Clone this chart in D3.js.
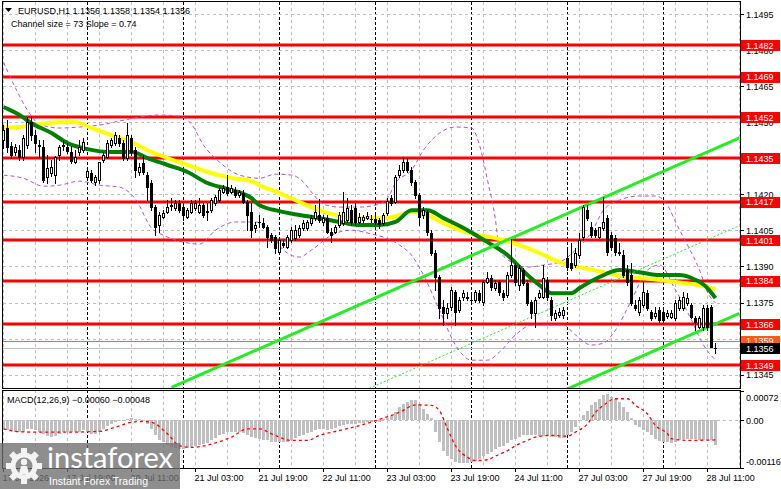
<!DOCTYPE html>
<html>
<head>
<meta charset="utf-8">
<script src="https://cdn.jsdelivr.net/npm/d3@7"></script>
<style>
  body { margin: 0; background: #fff; }
  svg text { font-family: "Liberation Sans", Arial, sans-serif; font-size: 9px; fill: #000; }
</style>
</head>
<body>
<svg id="chart" width="781" height="489"></svg>
<script>
var symbol = 'EURUSD,H1';

// one hourly bar per row: [open, high, low, close], 17 Jul 03:00 .. 28 Jul 13:00
var candles = [
  [1.14426,1.14488,1.14392,1.14467],[1.14476,1.14509,1.14376,1.14396],[1.14401,1.14417,1.14351,1.14363],[1.14376,1.14409,1.14363,1.14396],[1.14384,1.14405,1.14342,1.14355],
  [1.14355,1.14446,1.14342,1.14434],[1.14405,1.14521,1.14392,1.14500],[1.14500,1.14525,1.14426,1.14446],[1.14446,1.14467,1.14376,1.14413],[1.14405,1.14426,1.14355,1.14401],
  [1.14396,1.14426,1.14251,1.14259],[1.14272,1.14363,1.14247,1.14309],[1.14288,1.14342,1.14276,1.14313],[1.14280,1.14359,1.14247,1.14355],[1.14363,1.14405,1.14342,1.14396],
  [1.14405,1.14426,1.14384,1.14401],[1.14396,1.14413,1.14372,1.14380],[1.14376,1.14401,1.14330,1.14338],[1.14334,1.14384,1.14330,1.14355],[1.14376,1.14426,1.14363,1.14396],
  [1.14384,1.14434,1.14376,1.14417],[1.14272,1.14309,1.14259,1.14297],[1.14288,1.14301,1.14251,1.14259],[1.14251,1.14280,1.14238,1.14272],[1.14259,1.14334,1.14247,1.14334],
  [1.14342,1.14376,1.14334,1.14363],[1.14355,1.14426,1.14351,1.14413],[1.14405,1.14434,1.14396,1.14426],[1.14413,1.14459,1.14405,1.14446],[1.14434,1.14446,1.14401,1.14413],
  [1.14413,1.14426,1.14342,1.14351],[1.14351,1.14496,1.14342,1.14446],[1.14434,1.14446,1.14363,1.14376],[1.14384,1.14396,1.14272,1.14301],[1.14293,1.14330,1.14280,1.14313],
  [1.14330,1.14363,1.14284,1.14293],[1.14280,1.14293,1.14176,1.14230],[1.14247,1.14259,1.14134,1.14147],[1.14147,1.14155,1.14030,1.14064],[1.14072,1.14126,1.14043,1.14114],
  [1.14105,1.14134,1.14101,1.14122],[1.14126,1.14176,1.14122,1.14147],[1.14155,1.14184,1.14134,1.14151],[1.14143,1.14176,1.14134,1.14163],[1.14163,1.14176,1.14126,1.14134],
  [1.14147,1.14155,1.14093,1.14114],[1.14105,1.14143,1.14101,1.14134],[1.14126,1.14176,1.14122,1.14163],[1.14143,1.14176,1.14134,1.14163],[1.14126,1.14184,1.14122,1.14155],
  [1.14155,1.14163,1.14105,1.14114],[1.14126,1.14163,1.14093,1.14130],[1.14134,1.14184,1.14126,1.14176],[1.14163,1.14197,1.14155,1.14188],[1.14176,1.14226,1.14168,1.14218],
  [1.14209,1.14238,1.14205,1.14226],[1.14230,1.14280,1.14197,1.14205],[1.14209,1.14238,1.14205,1.14226],[1.14218,1.14230,1.14188,1.14197],[1.14197,1.14218,1.14188,1.14209],
  [1.14205,1.14218,1.14163,1.14168],[1.14168,1.14176,1.14051,1.14114],[1.14126,1.14163,1.14022,1.14051],[1.14060,1.14085,1.14043,1.14072],[1.14085,1.14114,1.14064,1.14085],
  [1.14080,1.14101,1.14060,1.14064],[1.14064,1.14072,1.13980,1.14022],[1.14030,1.14039,1.14001,1.14010],[1.14022,1.14030,1.13956,1.13976],[1.13960,1.14018,1.13956,1.14010],
  [1.13997,1.14010,1.13980,1.13989],[1.13980,1.14030,1.13976,1.14022],[1.14010,1.14064,1.14001,1.14051],[1.14018,1.14072,1.14010,1.14051],[1.14030,1.14072,1.14022,1.14060],
  [1.14060,1.14093,1.14051,1.14080],[1.14060,1.14093,1.14051,1.14085],[1.14080,1.14114,1.14072,1.14101],[1.14101,1.14155,1.14093,1.14126],[1.14114,1.14180,1.14085,1.14093],
  [1.14085,1.14114,1.14072,1.14101],[1.14101,1.14114,1.14039,1.14043],[1.14043,1.14060,1.14001,1.14030],[1.14043,1.14072,1.14039,1.14064],[1.14072,1.14126,1.14064,1.14114],
  [1.14080,1.14209,1.14072,1.14126],[1.14093,1.14184,1.14085,1.14143],[1.14134,1.14155,1.14072,1.14085],[1.14143,1.14163,1.14072,1.14085],[1.14085,1.14122,1.14080,1.14105],
  [1.14093,1.14114,1.14085,1.14105],[1.14101,1.14126,1.14097,1.14110],[1.14097,1.14114,1.14085,1.14097],[1.14097,1.14114,1.14076,1.14085],[1.14093,1.14101,1.14060,1.14076],
  [1.14080,1.14122,1.14072,1.14114],[1.14122,1.14184,1.14114,1.14172],[1.14184,1.14197,1.14155,1.14163],[1.14168,1.14280,1.14163,1.14272],[1.14280,1.14322,1.14272,1.14301],
  [1.14301,1.14355,1.14293,1.14334],[1.14334,1.14351,1.14293,1.14301],[1.14301,1.14313,1.14238,1.14251],[1.14251,1.14259,1.14184,1.14197],[1.14197,1.14205,1.14072,1.14105],
  [1.14114,1.14147,1.14101,1.14134],[1.14126,1.14134,1.14030,1.14043],[1.14039,1.14051,1.13947,1.13956],[1.13956,1.13968,1.13802,1.13856],[1.13856,1.13864,1.13685,1.13727],
  [1.13731,1.13760,1.13656,1.13706],[1.13706,1.13748,1.13685,1.13727],[1.13731,1.13814,1.13718,1.13802],[1.13793,1.13802,1.13656,1.13710],[1.13718,1.13773,1.13710,1.13760],
  [1.13773,1.13802,1.13760,1.13789],[1.13773,1.13793,1.13760,1.13768],[1.13760,1.13781,1.13748,1.13760],[1.13760,1.13802,1.13752,1.13793],[1.13789,1.13802,1.13752,1.13760],
  [1.13752,1.13843,1.13739,1.13835],[1.13835,1.13876,1.13831,1.13852],[1.13852,1.13864,1.13802,1.13814],[1.13810,1.13843,1.13802,1.13831],[1.13835,1.13843,1.13781,1.13793],
  [1.13789,1.13802,1.13760,1.13773],[1.13781,1.13876,1.13773,1.13864],[1.13864,1.14014,1.13856,1.13906],[1.13906,1.13914,1.13822,1.13835],[1.13822,1.13906,1.13802,1.13893],
  [1.13885,1.13893,1.13822,1.13831],[1.13831,1.13843,1.13739,1.13748],[1.13752,1.13760,1.13685,1.13706],[1.13706,1.13773,1.13648,1.13760],[1.13773,1.13802,1.13768,1.13789],
  [1.13773,1.13906,1.13768,1.13852],[1.13843,1.13856,1.13760,1.13773],[1.13760,1.13773,1.13676,1.13698],[1.13685,1.13718,1.13676,1.13706],[1.13698,1.13727,1.13689,1.13710],
  [1.13698,1.13731,1.13685,1.13718],[1.13935,1.13968,1.13885,1.13897],[1.13914,1.13997,1.13885,1.13893],[1.13906,1.13976,1.13897,1.13956],[1.13947,1.14039,1.13935,1.14010],
  [1.14022,1.14155,1.14010,1.14147],[1.14134,1.14155,1.14093,1.14101],[1.14064,1.14085,1.14022,1.14030],[1.14051,1.14060,1.14022,1.14030],[1.14022,1.14064,1.14018,1.14064],
  [1.14060,1.14188,1.14051,1.14085],[1.14101,1.14114,1.13947,1.13960],[1.14030,1.14043,1.13968,1.13980],[1.14018,1.14030,1.13947,1.13960],[1.13960,1.13997,1.13947,1.13956],
  [1.13947,1.13968,1.13856,1.13864],[1.13885,1.13906,1.13822,1.13835],[1.13864,1.13914,1.13739,1.13748],[1.13739,1.13760,1.13718,1.13727],[1.13710,1.13773,1.13698,1.13760],
  [1.13739,1.13835,1.13731,1.13793],[1.13789,1.13802,1.13718,1.13727],[1.13710,1.13718,1.13676,1.13685],[1.13693,1.13731,1.13685,1.13706],[1.13718,1.13731,1.13668,1.13676],
  [1.13710,1.13731,1.13668,1.13676],[1.13693,1.13718,1.13685,1.13706],[1.13689,1.13718,1.13685,1.13706],[1.13685,1.13760,1.13676,1.13748],[1.13727,1.13773,1.13718,1.13760],
  [1.13727,1.13793,1.13718,1.13773],[1.13748,1.13789,1.13739,1.13768],[1.13739,1.13748,1.13685,1.13689],[1.13685,1.13693,1.13635,1.13668],[1.13648,1.13693,1.13644,1.13685],
  [1.13648,1.13739,1.13635,1.13727],[1.13727,1.13739,1.13635,1.13648],[1.13731,1.13739,1.13564,1.13564],[1.13560,1.13580,1.13540,1.13560]
];

// moving averages, read as [bar, price]
var yellowMA = [[0,1.14476],[4,1.14480],[9,1.14492],[14,1.14500],[18,1.14500],[22,1.14476],[27,1.14446],[32,1.14417],[37,1.14376],[41,1.14351],
  [46,1.14322],[51,1.14293],[57,1.14268],[62,1.14255],[64,1.14238],[69,1.14205],[74,1.14168],[79,1.14134],[84,1.14110],[89,1.14101],
  [94,1.14101],[97,1.14105],[102,1.14126],[106,1.14114],[110,1.14080],[114,1.14051],[119,1.14030],[124,1.14014],[129,1.13989],[134,1.13956],
  [139,1.13918],[144,1.13897],[150,1.13876],[156,1.13856],[162,1.13848],[168,1.13835],[174,1.13822],[178,1.13806]];
var greenMA = [[0,1.14563],[4,1.14530],[7,1.14496],[12,1.14455],[16,1.14413],[21,1.14388],[27,1.14376],[32,1.14376],[36,1.14351],[41,1.14322],
  [46,1.14293],[51,1.14247],[56,1.14222],[62,1.14184],[64,1.14155],[69,1.14130],[74,1.14114],[79,1.14101],[84,1.14085],[89,1.14072],
  [94,1.14072],[98,1.14085],[102,1.14134],[106,1.14134],[110,1.14101],[116,1.14051],[121,1.14001],[126,1.13947],[131,1.13864],[134,1.13822],
  [137,1.13789],[142,1.13789],[144,1.13810],[149,1.13856],[154,1.13885],[159,1.13876],[164,1.13864],[169,1.13864],[172,1.13852],[176,1.13810],[178,1.13768]];

// bands, read as [bar, price]
var bandUpper = [[0,1.14750],[3,1.14642],[6,1.14550],[9,1.14492],[14,1.14476],[19,1.14480],[24,1.14488],[29,1.14505],[34,1.14521],[39,1.14530],
  [44,1.14525],[47,1.14492],[50,1.14405],[54,1.14334],[59,1.14280],[64,1.14267],[68,1.14284],[72,1.14280],[75,1.14251],[77,1.14209],
  [80,1.14159],[84,1.14147],[89,1.14147],[93,1.14155],[96,1.14184],[98,1.14247],[102,1.14301],[105,1.14384],[109,1.14455],[113,1.14480],
  [117,1.14476],[119,1.14405],[121,1.14259],[123,1.14093],[124,1.13968],[127,1.13918],[131,1.13897],[135,1.13906],[139,1.13918],[143,1.13968],
  [147,1.14043],[150,1.14134],[154,1.14176],[159,1.14193],[163,1.14193],[166,1.14155],[168,1.14085],[171,1.13989],[174,1.13885],[176,1.13793],[178,1.13748]];
var bandLower = [[0,1.14280],[5,1.14267],[10,1.14234],[14,1.14238],[19,1.14255],[24,1.14238],[29,1.14230],[33,1.14180],[37,1.14060],[40,1.14030],
  [45,1.14001],[49,1.13993],[53,1.14051],[58,1.14085],[63,1.14085],[67,1.14030],[70,1.13968],[74,1.13939],[77,1.13968],[82,1.14030],
  [87,1.14051],[92,1.14035],[95,1.14022],[99,1.13989],[102,1.13947],[105,1.13864],[109,1.13718],[113,1.13573],[117,1.13510],[121,1.13510],
  [124,1.13544],[128,1.13615],[132,1.13656],[136,1.13656],[140,1.13656],[143,1.13615],[147,1.13573],[150,1.13581],[153,1.13635],[157,1.13760],
  [161,1.13885],[164,1.13906],[168,1.13802],[172,1.13677],[175,1.13573],[178,1.13510]];

// regression channel: upper edge at two bars, width in price
var channelBars = [42, 184];
var channelUpper = [1.13397, 1.14435];
var channelSize = 0.0073;
var channelSlope = 0.74;

var levels = [1.1482, 1.1469, 1.1452, 1.1435, 1.1417, 1.1401, 1.1384, 1.1366, 1.1349];
var askPrice = 1.1359;
var bidPrice = 1.1356;
var priceTicks = [1.1495, 1.1480, 1.1465, 1.1450, 1.1435, 1.1420, 1.1405, 1.1390, 1.1375, 1.1360, 1.1345];

var timeLabelBars = [0, 16, 32, 48, 64, 80, 96, 112, 128, 144, 160, 176];
var timeLabels = ['17 Jul 2026', '17 Jul 19:00', '20 Jul 11:00', '21 Jul 03:00', '21 Jul 19:00', '22 Jul 11:00',
  '23 Jul 03:00', '23 Jul 19:00', '24 Jul 11:00', '27 Jul 03:00', '27 Jul 19:00', '28 Jul 11:00'];
var dayStartBars = [21, 45, 69, 93, 117, 141, 165];

var macdHist = [
  -0.00021,-0.00023,-0.00025,-0.00028,-0.00029,-0.00028,-0.00021,-0.00021,-0.00025,-0.00029,
  -0.00033,-0.00039,-0.00041,-0.00039,-0.00033,-0.00029,-0.00028,-0.00029,-0.00029,-0.00028,
  -0.00023,-0.00029,-0.00033,-0.00033,-0.00028,-0.00021,-0.00013,-0.00009,-0.00005,-0.00003,
  -0.00001,0.00003,0.00005,0.00003,0.00002,-0.00001,-0.00009,-0.00021,-0.00037,-0.00047,
  -0.00053,-0.00060,-0.00066,-0.00068,-0.00070,-0.00070,-0.00067,-0.00066,-0.00062,-0.00060,
  -0.00058,-0.00055,-0.00049,-0.00044,-0.00037,-0.00033,-0.00029,-0.00028,-0.00028,-0.00029,
  -0.00031,-0.00037,-0.00041,-0.00044,-0.00045,-0.00047,-0.00049,-0.00052,-0.00053,-0.00053,
  -0.00053,-0.00052,-0.00048,-0.00044,-0.00039,-0.00036,-0.00031,-0.00028,-0.00023,-0.00021,
  -0.00021,-0.00023,-0.00021,-0.00019,-0.00015,-0.00011,-0.00009,-0.00009,-0.00009,-0.00007,
  -0.00006,-0.00005,-0.00005,-0.00005,-0.00005,0.00002,0.00005,0.00011,0.00019,0.00032,
  0.00040,0.00045,0.00049,0.00049,0.00040,0.00026,0.00015,0.00005,-0.00029,-0.00053,
  -0.00074,-0.00087,-0.00094,-0.00102,-0.00104,-0.00104,-0.00104,-0.00102,-0.00098,-0.00094,
  -0.00088,-0.00082,-0.00076,-0.00071,-0.00066,-0.00062,-0.00055,-0.00048,-0.00045,-0.00041,
  -0.00037,-0.00036,-0.00036,-0.00037,-0.00039,-0.00039,-0.00039,-0.00041,-0.00042,-0.00044,
  -0.00044,-0.00037,-0.00029,-0.00017,0.00001,0.00013,0.00023,0.00036,0.00044,0.00052,
  0.00060,0.00064,0.00056,0.00052,0.00045,0.00032,0.00019,0.00005,-0.00011,-0.00017,
  -0.00023,-0.00029,-0.00037,-0.00045,-0.00050,-0.00053,-0.00053,-0.00056,-0.00053,-0.00049,
  -0.00045,-0.00045,-0.00045,-0.00045,-0.00047,-0.00048,-0.00049,-0.00048,-0.00060
];
// signal line, read as [bar, value]
var macdSignal = [[0,-0.00021],[4,-0.00028],[9,-0.00029],[16,-0.00029],[24,-0.00027],[28,-0.00017],[32,-0.00005],[35,-0.00003],[37,-0.00005],[41,-0.00033],
  [44,-0.00062],[47,-0.00066],[52,-0.00058],[57,-0.00041],[61,-0.00021],[64,-0.00021],[67,-0.00033],[72,-0.00049],[76,-0.00049],[79,-0.00037],
  [84,-0.00025],[89,-0.00013],[94,0.00002],[99,0.00019],[103,0.00037],[107,0.00036],[109,0.00023],[111,-0.00021],[113,-0.00062],[116,-0.00090],
  [118,-0.00098],[121,-0.00096],[123,-0.00087],[126,-0.00074],[128,-0.00062],[131,-0.00049],[133,-0.00041],[137,-0.00037],[141,-0.00039],[143,-0.00029],
  [146,-0.00009],[148,0.00019],[150,0.00036],[153,0.00052],[156,0.00052],[158,0.00036],[161,0.00015],[163,-0.00013],[166,-0.00033],[167,-0.00045],
  [171,-0.00049],[178,-0.00048]];
var macdTicks = [0.00072, 0, -0.00116];
var macdTickLabels = ['0.00072', '0.00', '-0.00116'];

var svg = d3.select('#chart');
var L = 3, R = 740, mainTop = 2, mainBot = 388, macdTop = 390, macdBot = 468;

var x = d3.scaleLinear().domain([0, 178]).range([3.5, 715.5]);
var y = d3.scaleLinear().domain([1.1349, 1.1482]).range([365, 45.3]);
var ym = d3.scaleLinear().domain([-0.00116, 0.00072]).range([468, 390.5]);
var f4 = d3.format('.4f'), f5 = d3.format('.5f');

function px(i) { return Math.floor(x(i)) + 0.5; }
function py(p) { return Math.round(y(p)) + 0.5; }

var defs = svg.append('defs');
defs.append('clipPath').attr('id', 'clipMain').append('rect')
  .attr('x', L).attr('y', mainTop).attr('width', R - L).attr('height', mainBot - mainTop);
defs.append('clipPath').attr('id', 'clipMacd').append('rect')
  .attr('x', L).attr('y', macdTop).attr('width', R - L).attr('height', macdBot - macdTop);

var main = svg.append('g').attr('clip-path', 'url(#clipMain)');
var macd = svg.append('g').attr('clip-path', 'url(#clipMacd)');

// grid and day separators in both panels
var gridBars = d3.range(0, 185, 8);
[[main, mainTop, mainBot], [macd, macdTop, macdBot]].forEach(function (p) {
  var g = p[0].append('g').attr('shape-rendering', 'crispEdges');
  g.selectAll('.vg').data(gridBars).enter().append('line')
    .attr('x1', px).attr('x2', px).attr('y1', p[1]).attr('y2', p[2])
    .attr('stroke', '#c0c0c0').attr('stroke-dasharray', '3,3');
  g.selectAll('.ds').data(dayStartBars).enter().append('line')
    .attr('x1', px).attr('x2', px).attr('y1', p[1]).attr('y2', p[2])
    .attr('stroke', '#000').attr('stroke-dasharray', '3,2');
});

var hg = main.append('g').attr('shape-rendering', 'crispEdges');
hg.selectAll('line').data(priceTicks).enter().append('line')
  .attr('x1', L).attr('x2', R).attr('y1', py).attr('y2', py)
  .attr('stroke', '#c0c0c0').attr('stroke-dasharray', '3,3');

macd.append('line').attr('shape-rendering', 'crispEdges')
  .attr('x1', L).attr('x2', R).attr('y1', Math.round(ym(0)) + 0.5).attr('y2', Math.round(ym(0)) + 0.5)
  .attr('stroke', '#c0c0c0').attr('stroke-dasharray', '3,3');

// horizontal levels
main.append('g').selectAll('line').data(levels).enter().append('line')
  .attr('x1', L).attr('x2', R).attr('y1', function (d) { return Math.round(y(d)); })
  .attr('y2', function (d) { return Math.round(y(d)); })
  .attr('stroke', '#ff0000').attr('stroke-width', 3);
main.append('line').attr('x1', L).attr('x2', R).attr('y1', py(askPrice)).attr('y2', py(askPrice))
  .attr('stroke', '#ff6a1a').attr('stroke-width', 1);
main.append('line').attr('x1', L).attr('x2', R).attr('y1', py(bidPrice)).attr('y2', py(bidPrice))
  .attr('stroke', '#c0c0c0').attr('stroke-width', 1);

// bands
var curve = d3.line().x(function (d) { return x(d[0]); }).y(function (d) { return y(d[1]); }).curve(d3.curveMonotoneX);
[bandUpper, bandLower].forEach(function (b) {
  main.append('path').datum(b).attr('d', curve).attr('fill', 'none')
    .attr('stroke', '#b44ee0').attr('stroke-width', 1).attr('stroke-dasharray', '4,3');
});

// moving averages
main.append('path').datum(yellowMA).attr('d', curve).attr('fill', 'none')
  .attr('stroke', '#ffff00').attr('stroke-width', 4);
main.append('path').datum(greenMA).attr('d', curve).attr('fill', 'none')
  .attr('stroke', '#008000').attr('stroke-width', 4);

// channel
var straight = d3.line().x(function (d) { return x(d[0]); }).y(function (d) { return y(d[1]); });
function channelLine(off) {
  return [[channelBars[0], channelUpper[0] - off], [channelBars[1], channelUpper[1] - off]];
}
main.append('path').datum(channelLine(0)).attr('d', straight)
  .attr('stroke', '#22ee22').attr('stroke-width', 3);
main.append('path').datum(channelLine(channelSize)).attr('d', straight)
  .attr('stroke', '#22ee22').attr('stroke-width', 3);
main.append('path').datum(channelLine(channelSize / 2)).attr('d', straight)
  .attr('stroke', '#22ee22').attr('stroke-width', 1).attr('stroke-dasharray', '2,2');

// candles
var cg = main.append('g').attr('shape-rendering', 'crispEdges');
cg.selectAll('.wick').data(candles).enter().append('line')
  .attr('x1', function (d, i) { return px(i); }).attr('x2', function (d, i) { return px(i); })
  .attr('y1', function (d) { return Math.round(y(d[1])); })
  .attr('y2', function (d) { return Math.round(y(d[2])) + 1; })
  .attr('stroke', '#000');
function bodyTop(d) { return Math.round(y(Math.max(d[0], d[3]))); }
function bodyH(d) { return Math.max(1, Math.round(y(Math.min(d[0], d[3]))) - bodyTop(d) + 1); }
cg.selectAll('.body').data(candles).enter().append('rect')
  .attr('x', function (d, i) { return Math.floor(x(i)) - 1; })
  .attr('y', bodyTop).attr('width', 3).attr('height', bodyH).attr('fill', '#000');
cg.selectAll('.hollow').data(candles.map(function (d, i) { return [d, i]; })
    .filter(function (e) { return e[0][3] > e[0][0] && bodyH(e[0]) > 2; }))
  .enter().append('rect')
  .attr('x', function (e) { return Math.floor(x(e[1])); })
  .attr('y', function (e) { return bodyTop(e[0]) + 1; })
  .attr('width', 1).attr('height', function (e) { return bodyH(e[0]) - 2; })
  .attr('fill', '#fff');

// MACD histogram and signal
var z = Math.round(ym(0));
macd.append('g').attr('shape-rendering', 'crispEdges').selectAll('rect').data(macdHist).enter().append('rect')
  .attr('x', function (d, i) { return Math.floor(x(i)) - 1; })
  .attr('width', 3)
  .attr('y', function (d) { return d >= 0 ? Math.round(ym(d)) : z; })
  .attr('height', function (d) { return Math.max(1, Math.abs(Math.round(ym(d)) - z)); })
  .attr('fill', '#c0c0c0');
macd.append('path').datum(macdSignal)
  .attr('d', d3.line().x(function (d) { return x(d[0]); }).y(function (d) { return ym(d[1]); }).curve(d3.curveMonotoneX))
  .attr('fill', 'none').attr('stroke', '#ff0000').attr('stroke-width', 1.3).attr('stroke-dasharray', '3,3');

// frames
svg.append('rect').attr('x', 2.5).attr('y', 1.5).attr('width', R - 2).attr('height', mainBot - 1)
  .attr('fill', 'none').attr('stroke', '#000').attr('shape-rendering', 'crispEdges');
svg.append('rect').attr('x', 2.5).attr('y', macdTop + 0.5).attr('width', R - 2).attr('height', macdBot - macdTop)
  .attr('fill', 'none').attr('stroke', '#000').attr('shape-rendering', 'crispEdges');

// price axis
var ax = svg.append('g');
ax.selectAll('line').data(priceTicks).enter().append('line')
  .attr('x1', R).attr('x2', R + 4).attr('y1', py).attr('y2', py).attr('stroke', '#000')
  .attr('shape-rendering', 'crispEdges');
ax.selectAll('text').data(priceTicks).enter().append('text')
  .attr('x', 746).attr('y', function (d) { return y(d) + 3.5; }).text(f4);

function priceBox(p, fill) {
  var g = svg.append('g');
  g.append('rect').attr('x', 741).attr('y', Math.round(y(p)) - 5).attr('width', 39).attr('height', 11).attr('fill', fill);
  g.append('text').attr('x', 746).attr('y', y(p) + 3.5).style('fill', '#fff').text(f4(p));
}
levels.forEach(function (p) { priceBox(p, '#ff0000'); });
priceBox(askPrice, '#ff5a14');
priceBox(bidPrice, '#000');

// MACD axis
macdTicks.forEach(function (v, k) {
  svg.append('line').attr('x1', R).attr('x2', R + 4).attr('y1', Math.round(ym(v)) + 0.5)
    .attr('y2', Math.round(ym(v)) + 0.5).attr('stroke', '#000').attr('shape-rendering', 'crispEdges');
  var ty = k === 0 ? 400.5 : (k === 2 ? 464.5 : ym(v) + 3.5);
  svg.append('text').attr('x', 746).attr('y', ty).text(macdTickLabels[k]);
});

// time axis
var ta = svg.append('g');
ta.selectAll('line').data(timeLabelBars).enter().append('line')
  .attr('x1', px).attr('x2', px).attr('y1', macdBot).attr('y2', macdBot + 4)
  .attr('stroke', '#000').attr('shape-rendering', 'crispEdges');
ta.selectAll('text').data(timeLabelBars).enter().append('text')
  .attr('x', function (d) { return x(d) - 1; }).attr('y', 481)
  .text(function (d, k) { return timeLabels[k]; });

// header texts
var last = candles[candles.length - 1];
svg.append('path').attr('d', 'M5,8 L12,8 L8.5,12 Z').attr('fill', '#000');
svg.append('text').attr('x', 18).attr('y', 14)
  .text(symbol + '  ' + last.map(f4).join(' '));
svg.append('text').attr('x', 11).attr('y', 26.5)
  .text('Channel size = ' + Math.round(channelSize * 10000) + ' Slope = ' + channelSlope.toFixed(2));
svg.append('text').attr('x', 7).attr('y', 403)
  .text('MACD(12,26,9) ' + f5(macdHist[macdHist.length - 1]) + ' ' + f5(macdSignal[macdSignal.length - 1][1]));

// watermark
var logo = svg.append('g');
logo.append('rect').attr('x', 0).attr('y', 443).attr('width', 180).attr('height', 46)
  .attr('fill', '#6e6e6e').attr('opacity', 0.78);
var gear = logo.append('g').attr('transform', 'translate(24,466)').attr('fill', '#fff').attr('opacity', 0.9);
gear.append('circle').attr('r', 11).attr('fill', 'none').attr('stroke', '#fff').attr('stroke-width', 5);
d3.range(8).forEach(function (k) {
  gear.append('rect').attr('x', -3).attr('y', -18).attr('width', 6).attr('height', 6)
    .attr('transform', 'rotate(' + (k * 45) + ')');
});
gear.append('circle').attr('cy', -4).attr('r', 3.2);
gear.append('path').attr('d', 'M-5,8 L-3,0 L3,0 L5,8 Z');
logo.append('text').attr('x', 47).attr('y', 468).attr('textLength', 126).attr('lengthAdjust', 'spacingAndGlyphs')
  .style('font-family', 'Lato, "Open Sans", sans-serif').style('font-size', '28px').style('fill', '#fff')
  .text('instaforex');
logo.append('text').attr('x', 49).attr('y', 485).attr('textLength', 99).attr('lengthAdjust', 'spacingAndGlyphs')
  .style('font-size', '11px').style('fill', '#fff')
  .text('Instant Forex Trading');
</script>
</body>
</html>
